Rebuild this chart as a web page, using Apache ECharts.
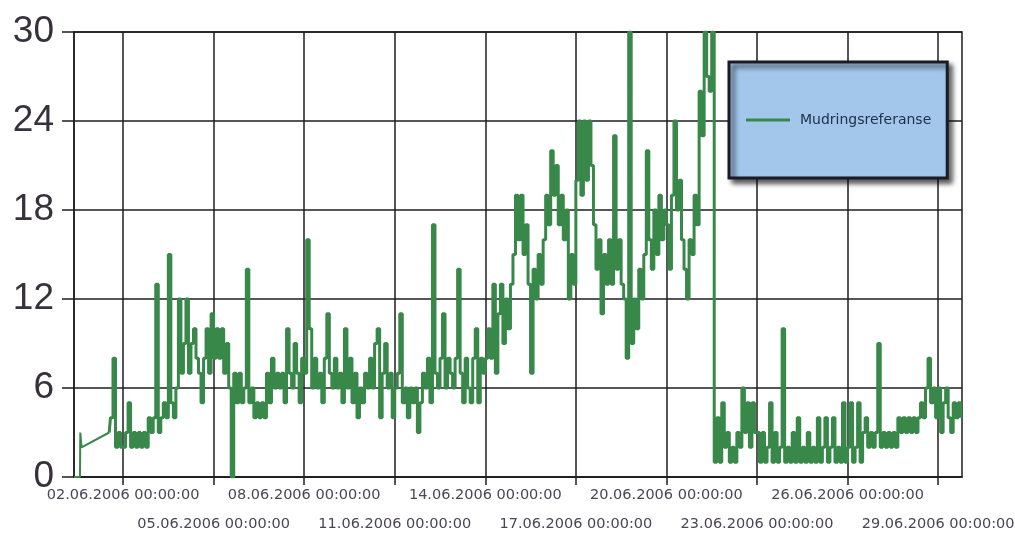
<!DOCTYPE html>
<html>
<head>
<meta charset="utf-8">
<title>Mudringsreferanse</title>
<script src="https://cdn.jsdelivr.net/npm/echarts@6/dist/echarts.min.js"></script>
<style>
  html, body { margin: 0; padding: 0; background: #ffffff; }
  #chart { width: 1015px; height: 533px; }
</style>
</head>
<body>
<div id="chart"></div>
<script>
// Series name shown in the legend
const seriesName = 'Mudringsreferanse';

// Readings before the first labelled day: offsets in hours relative to 02.06.2006 00:00
// (a gap in logging between 31.05 15:00 and 01.06 13:00 is bridged by a straight line)
const preHours  = [-39, -34.25, -34, -33, -11];
const preValues = [0, 0, 3, 2, 3];

// Two-hourly readings from 01.06.2006 14:00 up to midnight
const lateJune1 = [4, 8, 2, 3, 2];

// Two-hourly readings, one array per three-day block (starting 02.06.2006 00:00)
const block1 = [2, 3, 5, 2, 3, 2, 3, 2, 3, 2, 4, 3, 4, 13, 3, 4, 5, 4, 15, 5, 4, 6, 12, 7, 9, 12, 7, 9, 10, 8, 7, 5, 8, 10, 7, 11];
const block2 = [8, 10, 8, 10, 7, 9, 6, 0, 7, 5, 7, 5, 6, 14, 5, 6, 4, 5, 4, 5, 4, 7, 5, 8, 6, 7, 6, 7, 5, 10, 7, 6, 9, 7, 5, 8];
const block3 = [7, 16, 10, 6, 8, 6, 7, 5, 8, 11, 7, 6, 8, 6, 7, 5, 10, 6, 8, 5, 7, 4, 6, 5, 7, 6, 8, 6, 9, 10, 4, 7, 9, 6, 7, 4];
const block4 = [6, 7, 11, 5, 6, 4, 6, 5, 6, 3, 5, 7, 6, 8, 5, 17, 7, 6, 8, 11, 6, 8, 7, 6, 8, 14, 7, 5, 8, 6, 5, 8, 10, 5, 8, 7];
const block5 = [8, 10, 8, 13, 7, 11, 13, 9, 12, 10, 13, 15, 19, 16, 19, 15, 17, 13, 7, 14, 12, 15, 13, 16, 19, 17, 22, 19, 21, 17, 19, 16, 18, 12, 15, 13];
const block6 = [20, 24, 19, 24, 20, 24, 21, 17, 14, 16, 11, 15, 13, 16, 13, 23, 14, 16, 13, 12, 8, 30, 9, 12, 10, 14, 12, 15, 22, 16, 14, 18, 15, 19, 16, 18];
const block7 = [17, 14, 19, 24, 18, 20, 16, 14, 12, 16, 15, 19, 17, 26, 23, 30, 27, 26, 30, 1, 4, 1, 5, 2, 3, 1, 2, 1, 3, 2, 6, 3, 5, 2, 5, 3];
const block8 = [3, 1, 3, 1, 2, 5, 1, 3, 1, 2, 10, 1, 2, 1, 3, 1, 4, 1, 2, 1, 3, 1, 2, 1, 4, 1, 2, 4, 1, 2, 4, 1, 2, 1, 5, 1];
const block9 = [2, 5, 1, 2, 5, 1, 3, 4, 2, 3, 2, 3, 9, 2, 3, 2, 3, 2, 3, 2, 4, 3, 4, 3, 4, 3, 4, 3, 4, 5, 4, 6, 8, 5, 6, 4];
const block10 = [6, 3, 5, 6, 4, 3, 5, 4, 5, 4];

// Labelled dates on the time axis (alternating upper and lower label rows)
const upperDates = ['02.06.2006', '08.06.2006', '14.06.2006', '20.06.2006', '26.06.2006'];
const lowerDates = ['05.06.2006', '11.06.2006', '17.06.2006', '23.06.2006', '29.06.2006'];

// Value axis
const yMin = 0, yMax = 30, yStep = 6;

const HOUR = 3600 * 1000;
const base = new Date(2006, 5, 2, 0, 0, 0).getTime();

function parseDay(s) {
  const p = s.split('.');
  return new Date(+p[2], +p[1] - 1, +p[0], 0, 0, 0).getTime();
}

const upperTicks = upperDates.map(parseDay);
const lowerTicks = lowerDates.map(parseDay);
const allTicks = upperTicks.concat(lowerTicks).sort((a, b) => a - b);

// Early, sparse readings (drawn as a plain polyline)
const earlyPoints = preHours.map((h, i) => [base + h * HOUR, preValues[i]]);

// Regular two-hourly readings (drawn as steps)
const mainPoints = [earlyPoints[earlyPoints.length - 1]];
lateJune1.forEach((v, i) => mainPoints.push([base + (-10 + 2 * i) * HOUR, v]));
const blocks = [block1, block2, block3, block4, block5, block6, block7, block8, block9, block10];
blocks.forEach((blk, k) => {
  const start = allTicks[k];
  blk.forEach((v, i) => mainPoints.push([start + i * 2 * HOUR, v]));
});

const xMin = base - 39 * HOUR;
const xMax = allTicks[allTicks.length - 1] + 19 * HOUR;

function pad(n) { return (n < 10 ? '0' : '') + n; }
function fmtDate(v) {
  const d = new Date(v);
  return pad(d.getDate()) + '.' + pad(d.getMonth() + 1) + '.' + d.getFullYear() + ' ' +
         pad(d.getHours()) + ':' + pad(d.getMinutes()) + ':' + pad(d.getSeconds());
}

const gridColor = '#1e1e22';
const lineColor = '#38884a';
const dateLabel = {
  color: '#4b4556',
  fontFamily: 'DejaVu Sans',
  fontSize: 14.5,
  hideOverlap: false,
  showMinLabel: true,
  showMaxLabel: true,
  formatter: fmtDate
};

const chart = echarts.init(document.getElementById('chart'), null, { renderer: 'canvas' });
chart.setOption({
  animation: false,
  backgroundColor: '#ffffff',
  grid: {
    left: 74, right: 53, top: 32, bottom: 56,
    outerBoundsMode: 'none',
    containLabel: false,
    show: true, borderColor: gridColor, borderWidth: 1.5
  },
  legend: {
    left: 729, top: 62,
    orient: 'vertical',
    data: [seriesName],
    backgroundColor: '#a2c7ea',
    borderColor: '#1b1b26',
    borderWidth: 3,
    borderRadius: 0,
    padding: [51, 16, 51, 17],
    shadowColor: 'rgba(0,0,0,0.65)',
    shadowBlur: 5,
    shadowOffsetX: 4,
    shadowOffsetY: 4,
    itemWidth: 44,
    itemHeight: 14,
    icon: 'path://M0,5.5 L44,5.5 L44,8.5 L0,8.5 Z',
    textStyle: {
      color: '#22304c',
      fontFamily: 'DejaVu Sans',
      fontSize: 14,
      padding: [0, 0, 0, 5]
    }
  },
  xAxis: [{
    type: 'value',
    position: 'bottom',
    min: xMin,
    max: xMax,
    axisLine: { show: true, lineStyle: { color: gridColor, width: 1.5 } },
    axisTick: {
      show: true, length: 8, inside: false,
      customValues: allTicks,
      lineStyle: { color: gridColor, width: 1.5 }
    },
    axisLabel: Object.assign({ customValues: upperTicks, margin: 11 }, dateLabel),
    splitLine: { show: true, lineStyle: { color: gridColor, width: 1.5 } }
  }, {
    type: 'value',
    position: 'bottom',
    offset: 0,
    min: xMin,
    max: xMax,
    axisLine: { show: false },
    axisTick: { show: false, customValues: lowerTicks },
    axisLabel: Object.assign({ customValues: lowerTicks, margin: 40 }, dateLabel),
    splitLine: { show: false }
  }],
  yAxis: {
    type: 'value',
    min: yMin, max: yMax, interval: yStep,
    axisLine: { show: true, lineStyle: { color: gridColor, width: 1.5 } },
    axisTick: { show: true, length: 12, inside: false, lineStyle: { color: gridColor, width: 1.5 } },
    axisLabel: {
      color: '#37313c',
      fontFamily: 'Liberation Sans',
      fontSize: 37,
      margin: 20,
      showMinLabel: true,
      showMaxLabel: true
    },
    splitLine: { show: true, lineStyle: { color: gridColor, width: 1.5 } }
  },
  series: [{
    name: seriesName,
    type: 'line',
    xAxisIndex: 0,
    data: earlyPoints,
    symbol: 'none',
    showSymbol: false,
    lineStyle: { color: lineColor, width: 2 },
    itemStyle: { color: lineColor }
  }, {
    name: seriesName,
    type: 'line',
    xAxisIndex: 0,
    step: 'end',
    data: mainPoints,
    symbol: 'none',
    showSymbol: false,
    lineStyle: { color: lineColor, width: 3 },
    itemStyle: { color: lineColor }
  }]
});
</script>
</body>
</html>
